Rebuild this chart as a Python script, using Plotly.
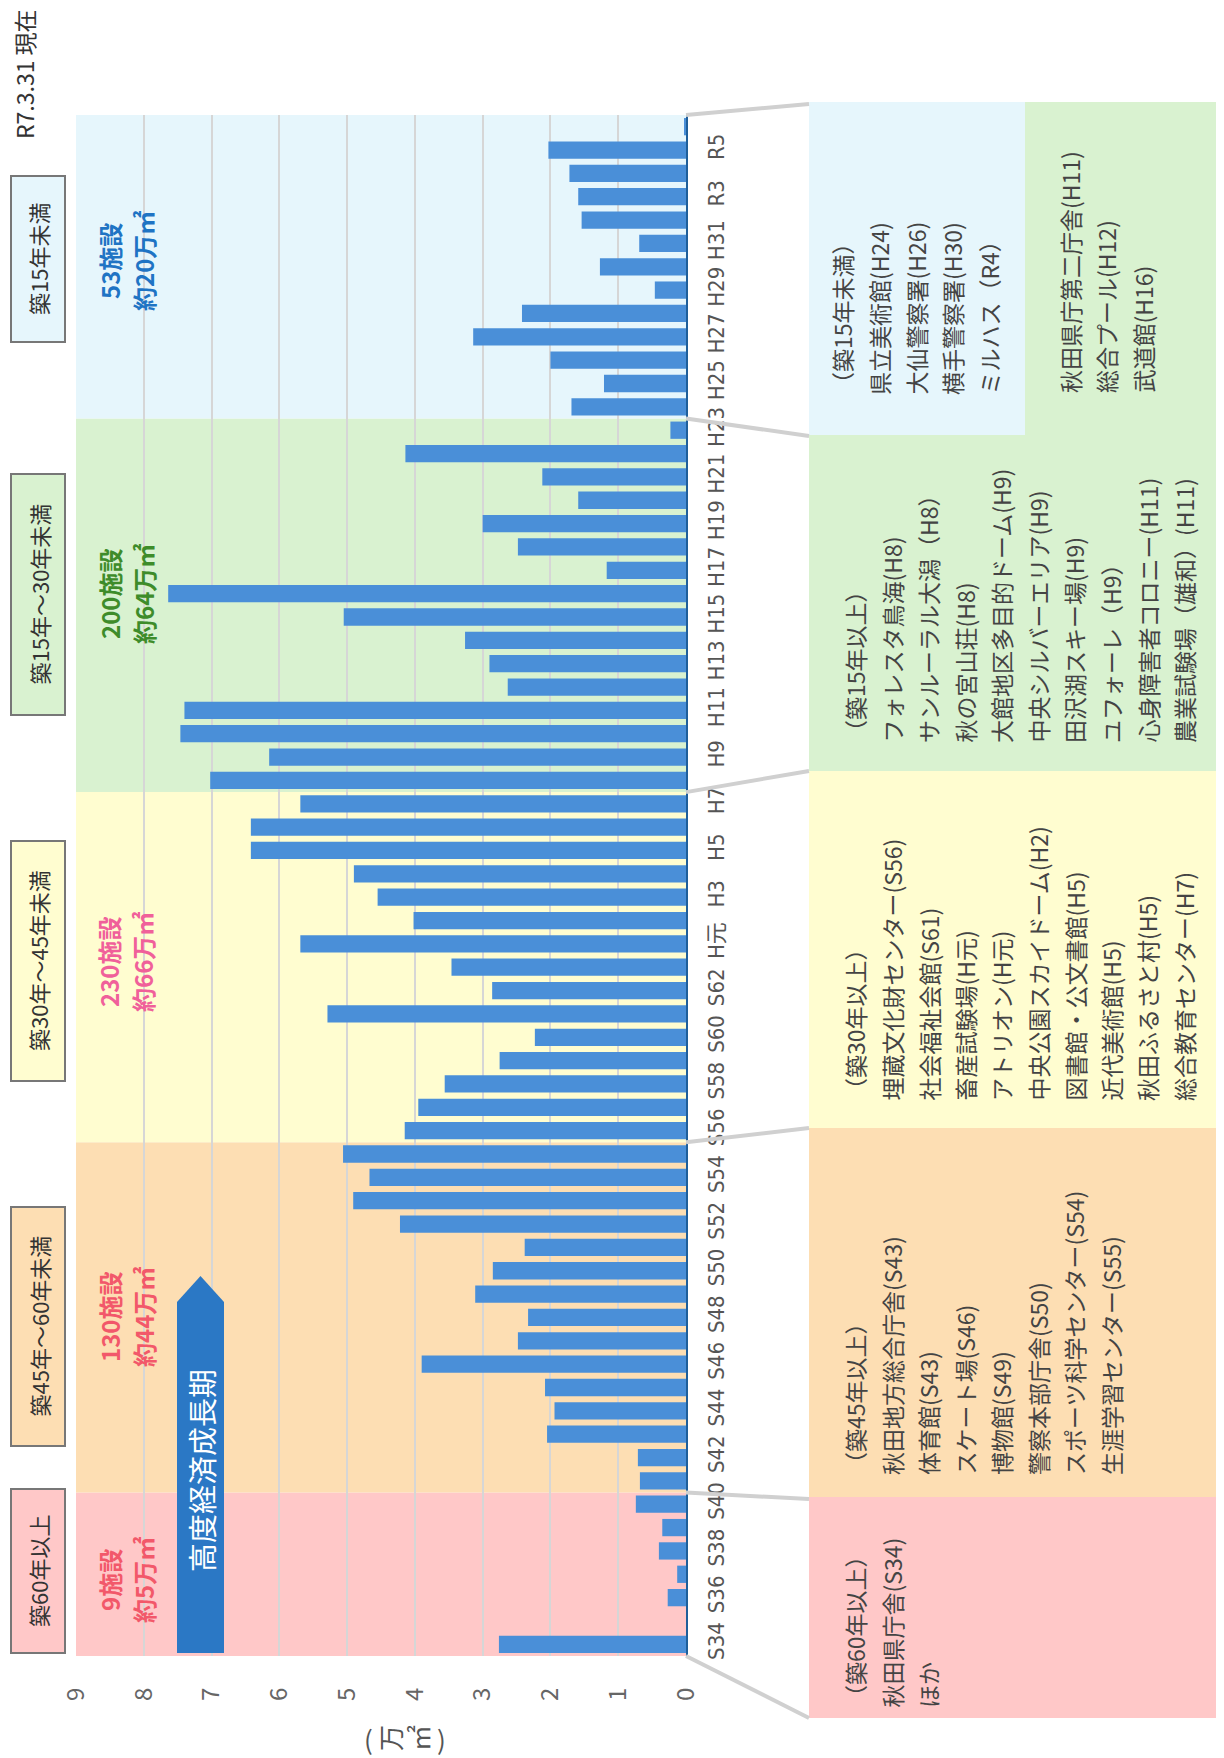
import plotly.graph_objects as go

# ---------------- data ----------------
categories = (["S%d" % n for n in range(34, 64)] + ["H元"] +
              ["H%d" % n for n in range(2, 32)] + ["R%d" % n for n in range(2, 7)])
values = [2.76, 0.0, 0.27, 0.13, 0.40, 0.35, 0.74, 0.68, 0.71, 2.05,
          1.94, 2.08, 3.90, 2.48, 2.33, 3.11, 2.85, 2.38, 4.22, 4.91,
          4.67, 5.06, 4.15, 3.95, 3.56, 2.75, 2.23, 5.29, 2.86, 3.46,
          5.69, 4.02, 4.55, 4.90, 6.42, 6.42, 5.69, 7.02, 6.15, 7.46,
          7.40, 2.63, 2.90, 3.26, 5.05, 7.64, 1.17, 2.48, 3.00, 1.59,
          2.12, 4.14, 0.23, 1.69, 1.21, 2.00, 3.14, 2.42, 0.46, 1.27,
          0.69, 1.54, 1.59, 1.72, 2.03, 0.03]
tick_labels = categories[::2]
value_ticks = list(range(0, 10))

band_names = ["築60年以上", "築45年～60年未満", "築30年～45年未満", "築15年～30年未満", "築15年未満"]
band_first = ["S34", "S41", "S56", "H8", "H24"]
band_counts = ["9施設", "130施設", "230施設", "200施設", "53施設"]
band_areas = ["約5万㎡", "約44万㎡", "約66万㎡", "約64万㎡", "約20万㎡"]

panel_60 = ["（築60年以上）", "秋田県庁舎(S34)", "ほか"]
panel_45 = ["（築45年以上）", "秋田地方総合庁舎(S43)", "体育館(S43)", "スケート場(S46)",
            "博物館(S49)", "警察本部庁舎(S50)", "スポーツ科学センター(S54)", "生涯学習センター(S55)"]
panel_30 = ["（築30年以上）", "埋蔵文化財センター(S56)", "社会福祉会館(S61)", "畜産試験場(H元)",
            "アトリオン(H元)", "中央公園スカイドーム(H2)", "図書館・公文書館(H5)", "近代美術館(H5)",
            "秋田ふるさと村(H5)", "総合教育センター(H7)"]
panel_15 = ["（築15年以上）", "フォレスタ鳥海(H8)", "サンルーラル大潟（H8）", "秋の宮山荘(H8)",
            "大館地区多目的ドーム(H9)", "中央シルバーエリア(H9)", "田沢湖スキー場(H9)",
            "ユフォーレ（H9）", "心身障害者コロニー(H11)", "農業試験場（雄和）(H11)"]
panel_15_extra = ["秋田県庁第二庁舎(H11)", "総合プール(H12)", "武道館(H16)"]
panel_0 = ["（築15年未満）", "県立美術館(H24)", "大仙警察署(H26)", "横手警察署(H30)", "ミルハス（R4）"]

unit_chars = ["(", "万", "㎡", ")"]

# ---------------- styling / layout ----------------
PAGE_W, PAGE_H = 1224, 1758
OFF = 8                       # default body margin of the html page
W, H = PAGE_W - OFF, PAGE_H - OFF
L, R, T, B = 76, 686, 115, 1656   # plot area, page pixels
N = len(categories)
FONT = "Noto Sans CJK JP"
NARROW = "Liberation Sans Narrow, DejaVu Sans Condensed, Noto Sans CJK JP"

band_fill = ["#ffc8c8", "#fddeb3", "#fffdd0", "#d9f2d0", "#e6f6fc"]
stat_color = ["#f2586a", "#f2586a", "#f0609a", "#3e8c2a", "#1f74c4"]


def px(x):
    return (x - L) / (R - L)


def py(y):
    return (B - y) / (B - T)


def cat_y(idx):
    return B - (idx + 0.5) * (B - T) / N


fig = go.Figure(go.Bar(
    y=categories, x=values, orientation="h",
    marker=dict(color="#4a8fd8", line=dict(width=0)),
    hoverinfo="skip",
))

shapes = []
annotations = []


def rot_text(x, y, text, size, color, yanchor="middle", family=FONT, angle=-90):
    annotations.append(dict(xref="paper", yref="paper", x=px(x), y=py(y), text=text,
                            textangle=angle, showarrow=False,
                            font=dict(family=family, size=size, color=color),
                            xanchor="center", yanchor=yanchor))


starts = [categories.index(c) - 0.5 for c in band_first] + [N - 0.5]
for k in range(5):
    shapes.append(dict(type="rect", xref="paper", yref="y", x0=0, x1=1,
                       y0=starts[k], y1=starts[k + 1], fillcolor=band_fill[k],
                       line=dict(width=0), layer="below"))

# left boxes
box_rng = [(1489, 1653), (1207, 1446), (841, 1081), (474, 715), (176, 342)]
for k in range(5):
    y0, y1 = box_rng[k]
    shapes.append(dict(type="rect", xref="paper", yref="paper", x0=px(11), x1=px(65),
                       y0=py(y1), y1=py(y0), fillcolor=band_fill[k],
                       line=dict(color="#777777", width=2)))
    rot_text(38, (y0 + y1) / 2, band_names[k], 22, "#333333")

# stats inside bands
stat_y = [1580, 1317, 962, 594, 261]
for k in range(5):
    rot_text(109, stat_y[k], "<b>%s</b>" % band_counts[k], 24, stat_color[k])
    rot_text(143, stat_y[k], "<b>%s</b>" % band_areas[k], 24, stat_color[k])

# arrow 高度経済成長期
ax0, ax1, tip, sh, bot = 177, 224, 1276, 1302, 1653
path = "M %f,%f L %f,%f L %f,%f L %f,%f L %f,%f Z" % (
    px(ax0), py(bot), px(ax0), py(sh), px((ax0 + ax1) / 2), py(tip),
    px(ax1), py(sh), px(ax1), py(bot))
shapes.append(dict(type="path", xref="paper", yref="paper", path=path,
                   fillcolor="#2b78c5", line=dict(width=0)))
rot_text(201, 1471, "高度経済成長期", 29, "white")

# right panel boxes
PX0 = 809
panel_boxes = [
    (PX0, PAGE_W, 1497, 1718, band_fill[0]),
    (PX0, PAGE_W, 1128, 1497, band_fill[1]),
    (PX0, PAGE_W, 771, 1128, band_fill[2]),
    (PX0, PAGE_W, 102, 771, band_fill[3]),
    (PX0, 1025, 102, 435, band_fill[4]),
]
for x0, x1, y0, y1, c in panel_boxes:
    shapes.append(dict(type="rect", xref="paper", yref="paper", x0=px(x0), x1=px(x1),
                       y0=py(y1), y1=py(y0), fillcolor=c, line=dict(width=0)))

# connector lines
conn_right = [1718, 1499, 1128, 771, 436, 104]
conn_left = [cat_y(s) for s in starts]
conn_left[0] = B
conn_left[-1] = T
for yl, yr in zip(conn_left, conn_right):
    shapes.append(dict(type="line", xref="paper", yref="paper", x0=px(R), x1=px(PX0),
                       y0=py(yl), y1=py(yr), line=dict(color="#d0d0d0", width=4)))


# panel text
def add_lines(lines, x_start, bottom, step=36.5):
    for i, t in enumerate(lines):
        rot_text(x_start + i * step, bottom, t, 23, "#444444", yanchor="bottom")


add_lines(panel_0, 842, 397)
add_lines(panel_15_extra, 1070, 395)
add_lines(panel_15, 855, 745)
add_lines(panel_30, 855, 1103)
add_lines(panel_45, 855, 1477)
add_lines(panel_60, 855, 1710)

# date and unit
rot_text(24, 74, "R7.3.31 現在", 23, "#333333")
unit_x = [368, 389, 418, 441]
unit_angle = [0, -90, -90, 0]
for ch, ux, ua in zip(unit_chars, unit_x, unit_angle):
    rot_text(ux, 1738, ch, 26, "#555555", angle=ua)

fig.update_layout(
    width=W, height=H,
    margin=dict(l=L - OFF, r=W - (R - OFF), t=T - OFF, b=H - (B - OFF), pad=0),
    paper_bgcolor="white", plot_bgcolor="rgba(0,0,0,0)",
    bargap=0.26, showlegend=False,
    shapes=shapes, annotations=annotations,
    xaxis=dict(range=[9, 0], tickvals=value_ticks, ticktext=[str(v) for v in value_ticks],
               tickangle=-90, showgrid=True, gridcolor="#d6d6d6", gridwidth=2,
               zeroline=False, showline=False, ticks="", ticklabelstandoff=26,
               tickfont=dict(family=FONT, size=24, color="#666666")),
    yaxis=dict(type="category", categoryorder="array", categoryarray=categories,
               range=[-0.5, N - 0.5], side="right", tickvals=tick_labels, ticktext=tick_labels,
               tickangle=-90, showgrid=False, showline=True, linecolor="#1f5f9a", linewidth=2,
               ticks="", ticklabelstandoff=10,
               tickfont=dict(family=NARROW, size=22, color="#555555")),
)

fig.write_html("out.html")
